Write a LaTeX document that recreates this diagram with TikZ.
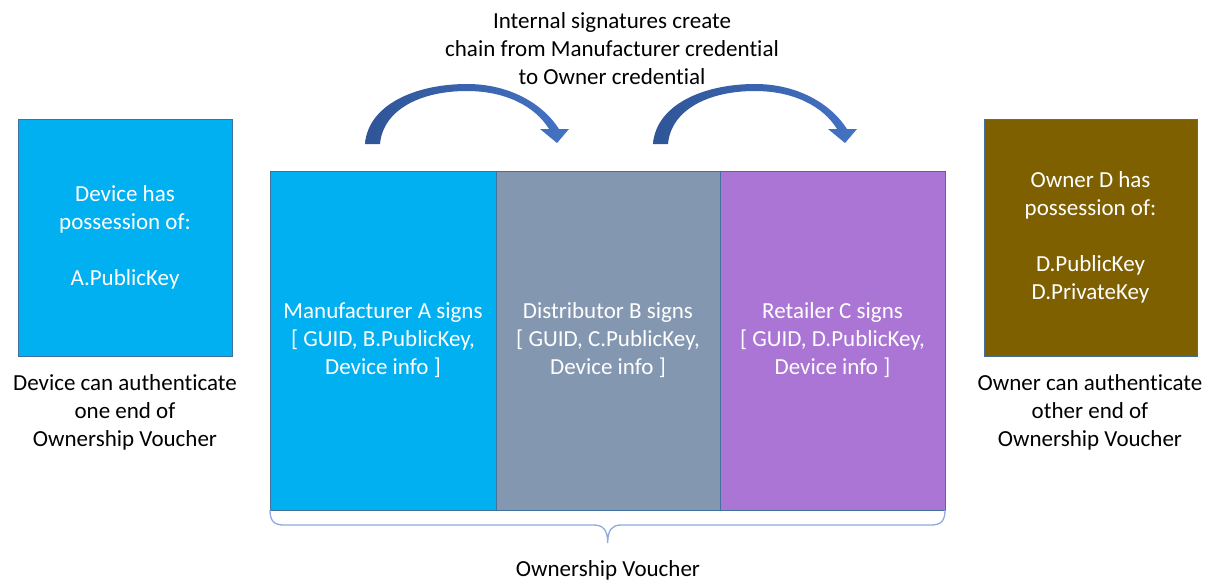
\documentclass[tikz,border=0pt]{standalone}
\usepackage{fontspec}
\setmainfont{Carlito}[Ligatures=NoCommon]
\definecolor{cyanbox}{HTML}{00B0F0}
\definecolor{greybox}{HTML}{8497B0}
\definecolor{purplebox}{HTML}{AB75D5}
\definecolor{brownbox}{HTML}{7F6000}
\definecolor{edgeblue}{HTML}{41719C}
\definecolor{arrdark}{HTML}{2F5597}
\definecolor{arrlight}{HTML}{4472C4}
\definecolor{bracecol}{HTML}{8FAADC}
\begin{document}
\begin{tikzpicture}[x=1pt,y=-1pt,
  txt/.style={font=\fontsize{23}{28}\selectfont, align=center, inner sep=0pt},
  box/.style={txt, draw=edgeblue, line width=0.8pt, text=white, outer sep=0pt},
  curvedarrow/.style={left color=arrdark, right color=arrlight, draw=none}]
\useasboundingbox (0,0) rectangle (1209,582);

% side boxes
\node[box, fill=cyanbox, minimum width=214, minimum height=237] (dev) at (125,237.5)
  {Device has\\possession of:\\[28pt]A.PublicKey};
\node[box, fill=brownbox, minimum width=213, minimum height=237] (own) at (1090.5,237.5)
  {Owner D has\\possession of:\\[28pt]D.PublicKey\\D.PrivateKey};

% voucher boxes
\node[box, fill=cyanbox, minimum width=226, minimum height=339] (man) at (383,340.5)
  {Manufacturer A signs\\{[} GUID, B.PublicKey,\\Device info ]};
\node[box, fill=greybox, minimum width=224, minimum height=339] (dis) at (608,340.5)
  {Distributor B signs\\{[} GUID, C.PublicKey,\\Device info ]};
\node[box, fill=purplebox, minimum width=225, minimum height=339] (ret) at (832.5,340.5)
  {Retailer C signs\\{[} GUID, D.PublicKey,\\Device info ]};

% captions
\node[txt] (devcap) at (125,412) {Device can authenticate\\one end of\\Ownership Voucher};
\node[txt] (owncap) at (1090,412) {Owner can authenticate\\other end of\\Ownership Voucher};
\node[txt] (topcap) at (612,49) {Internal signatures create\\chain from Manufacturer credential\\to Owner credential};
\node[txt] (ovcap) at (608,570) {Ownership Voucher};

% brace
\draw[bracecol, line width=1.3pt]
  (man.south west) .. controls (270,521) and (274,525) .. (284,525)
  -- (594,525) .. controls (603,525) and (607.7,530) .. (607.7,543)
  .. controls (607.7,530) and (612,525) .. (621,525)
  -- (931,525) .. controls (941,525) and (ret.south east |- 0,521) .. (ret.south east);

% curved arrows
\foreach \dx in {0,288} {
  \begin{scope}[xshift=\dx]
  \shade[curvedarrow]
    (365,144) .. controls (368,105) and (415,84) .. (467,84)
    .. controls (510,84) and (543,104) .. (559,129)
    -- (569,129) -- (557,143) -- (540,129) -- (549,129)
    .. controls (535,106) and (505,91) .. (467,91)
    .. controls (420,91) and (383,110) .. (380,144) -- cycle;
  \end{scope}
}
\end{tikzpicture}
\end{document}
